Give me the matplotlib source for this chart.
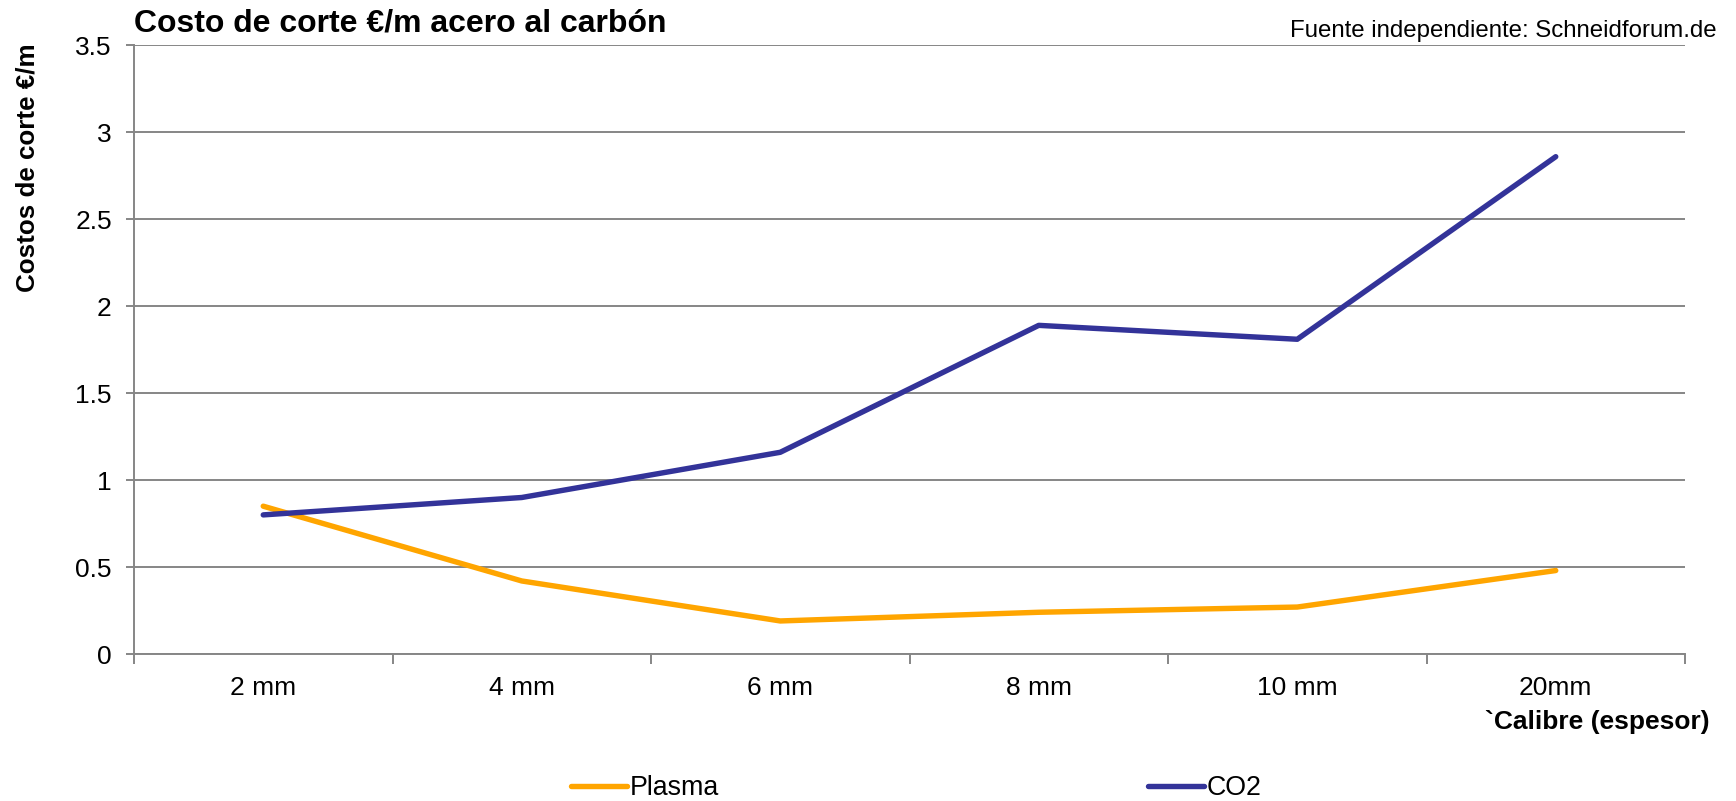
import matplotlib
matplotlib.use("Agg")
import matplotlib.pyplot as plt
import numpy as np

plt.rcParams['font.family'] = ['Liberation Sans', 'DejaVu Sans']

categories = ["2 mm", "4 mm", "6 mm", "8 mm", "10 mm", "20mm"]
plasma = [0.85, 0.42, 0.19, 0.24, 0.27, 0.48]
co2 = [0.80, 0.90, 1.16, 1.89, 1.81, 2.86]
y_ticks = [0, 0.5, 1, 1.5, 2, 2.5, 3, 3.5]
y_tick_labels = ["0", "0.5", "1", "1.5", "2", "2.5", "3", "3.5"]

ORANGE = "#FFA500"
NAVY = "#333399"
GRID = "#868686"

W, H = 1736, 801
fig = plt.figure(figsize=(W / 100, H / 100), dpi=100)
ax = fig.add_axes([134 / W, 1 - 654 / H, (1685 - 134) / W, (654 - 45.4) / H])

x = np.arange(len(categories))
ax.plot(x, plasma, color=ORANGE, lw=3.9, solid_capstyle='round', solid_joinstyle='round', label="Plasma", zorder=3)
ax.plot(x, co2, color=NAVY, lw=3.9, solid_capstyle='round', solid_joinstyle='round', label="CO2", zorder=3)

ax.set_xlim(-0.5, len(categories) - 0.5)
ax.set_ylim(0, 3.5)
ax.set_yticks(y_ticks)
ax.set_yticklabels(y_tick_labels)
ax.yaxis.grid(True, color=GRID, lw=1.4)
ax.set_axisbelow(True)

ax.set_xticks(x)
ax.set_xticklabels(categories)
ax.set_xticks(np.arange(-0.5, len(categories)), minor=True)
ax.tick_params(axis='x', which='major', length=0, pad=16, labelsize=19)
ax.tick_params(axis='x', which='minor', length=7, width=1.4, color=GRID)
ax.tick_params(axis='y', length=6, width=1.4, color=GRID, labelsize=19, pad=10)

for side in ("top", "right"):
    ax.spines[side].set_visible(False)
for side in ("left", "bottom"):
    ax.spines[side].set_color(GRID)
    ax.spines[side].set_linewidth(1.4)

fig.text(134 / W, 1 - 24 / H, "Costo de corte €/m acero al carbón", fontsize=23, fontweight='bold',
         ha='left', va='center')
fig.text(1717 / W, 1 - 31 / H, "Fuente independiente: Schneidforum.de", fontsize=17.3,
         ha='right', va='center')
fig.text(28 / W, 1 - 168 / H, "Costos de corte €/m", fontsize=18.7, fontweight='bold',
         rotation=90, ha='center', va='center')
fig.text(1710 / W, 1 - 722 / H, "`Calibre (espesor)", fontsize=19, fontweight='bold',
         ha='right', va='center')

fig.legend(loc='center', bbox_to_anchor=(916 / W, 1 - 788 / H), ncol=2, frameon=False,
           fontsize=19.3, handlelength=2.1, handletextpad=0.1, columnspacing=16)

fig.savefig("out.png", dpi=100)
